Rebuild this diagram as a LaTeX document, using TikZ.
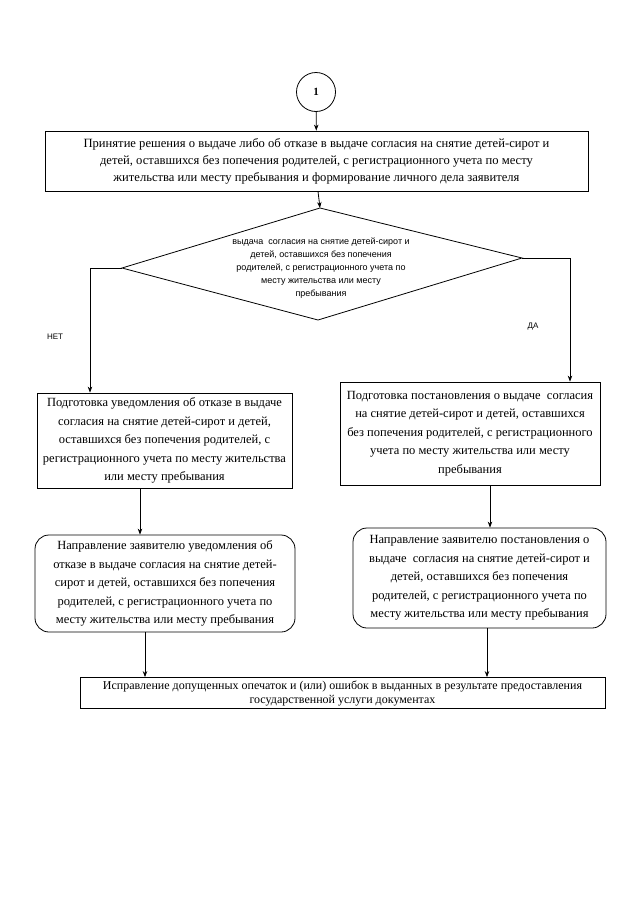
\documentclass[tikz,border=0pt]{standalone}
\usepackage{fontspec}
\setmainfont{Liberation Serif}
\setsansfont{Liberation Sans}
\usetikzlibrary{arrows.meta,calc}
\begin{document}
\begin{tikzpicture}[x=1pt,y=-1pt,
  line width=0.8pt,
  arr/.style={-{Stealth[length=6pt,width=4.5pt]}},
  box/.style={draw,rectangle,align=center,inner sep=0pt,font=\fontsize{12.5}{18.5}\selectfont},
  rbox/.style={box,rounded corners=14pt},
  lbl/.style={font=\sffamily\fontsize{8}{9}\selectfont}]
\useasboundingbox (0,0) rectangle (640,905);
\fill[white] (0,0) rectangle (640,905);

\node[draw,circle,minimum size=39pt,inner sep=0pt,font=\fontsize{11}{13}\selectfont\bfseries] (c1) at (316,92) {1};

\node[box,minimum width=543pt,minimum height=60pt,font=\fontsize{12.6}{17}\selectfont] (b1) at (316.5,161)
 {Принятие решения о выдаче либо об отказе в выдаче согласия на снятие детей-сирот и\\
  детей, оставшихся без попечения родителей, с регистрационного учета по месту\\
  жительства или месту пребывания и формирование личного дела заявителя};

\coordinate (dt) at (320,208);
\coordinate (dr) at (522,258);
\coordinate (db) at (318,320);
\coordinate (dl) at (122,268);
\draw (dt) -- (dr) -- (db) -- (dl) -- cycle;
\node[align=center,font=\sffamily\fontsize{9}{13}\selectfont] (dtext) at (321,268)
 {выдача\ \ согласия на снятие детей-сирот и\\
  детей, оставшихся без попечения\\
  родителей, с регистрационного учета по\\
  месту жительства или месту\\
  пребывания};

\node[box,minimum width=255pt,minimum height=95pt] (b2) at (164.5,440.5)
 {Подготовка уведомления об отказе в выдаче\\
  согласия на снятие детей-сирот и детей,\\
  оставшихся без попечения родителей, с\\
  регистрационного учета по месту жительства\\
  или месту пребывания};

\node[box,minimum width=260pt,minimum height=103pt] (b3) at (470,433.5)
 {Подготовка постановления о выдаче\ \ согласия\\
  на снятие детей-сирот и детей, оставшихся\\
  без попечения родителей, с регистрационного\\
  учета по месту жительства или месту\\
  пребывания};

\node[rbox,minimum width=260pt,minimum height=97pt] (b4) at (165,583.5)
 {Направление заявителю уведомления об\\
  отказе в выдаче согласия на снятие детей-\\
  сирот и детей, оставшихся без попечения\\
  родителей, с регистрационного учета по\\
  месту жительства или месту пребывания};

\node[rbox,minimum width=253pt,minimum height=100pt] (b5) at (479.5,578)
 {Направление заявителю постановления о\\
  выдаче\ \ согласия на снятие детей-сирот и\\
  детей, оставшихся без попечения\\
  родителей, с регистрационного учета по\\
  месту жительства или месту пребывания};

\node[box,minimum width=525pt,minimum height=31pt,font=\fontsize{12}{14}\selectfont] (b6) at (342.5,693)
 {Исправление допущенных опечаток и (или) ошибок в выданных в результате предоставления\\
  государственной услуги документах};

\node[lbl] (no) at (55,337) {НЕТ};
\node[lbl] (yes) at (533,327) {ДА};

\coordinate (lk) at (90,268);
\coordinate (rk) at (570,258);
\coordinate (xa) at (140,0);
\coordinate (xb) at (490,0);
\coordinate (xc) at (145,0);
\coordinate (xd) at (487,0);
\coordinate (xe) at (318,0);

\draw[arr] (c1) -- (b1);
\draw[arr] (xe |- b1.south) -- (dt);
\draw[arr] (dl) -- (lk) -- (lk |- b2.north);
\draw[arr] (dr) -- (rk) -- (rk |- b3.north);
\draw[arr] (xa |- b2.south) -- (xa |- b4.north);
\draw[arr] (xb |- b3.south) -- (xb |- b5.north);
\draw[arr] (xc |- b4.south) -- (xc |- b6.north);
\draw[arr] (xd |- b5.south) -- (xd |- b6.north);
\end{tikzpicture}
\end{document}
